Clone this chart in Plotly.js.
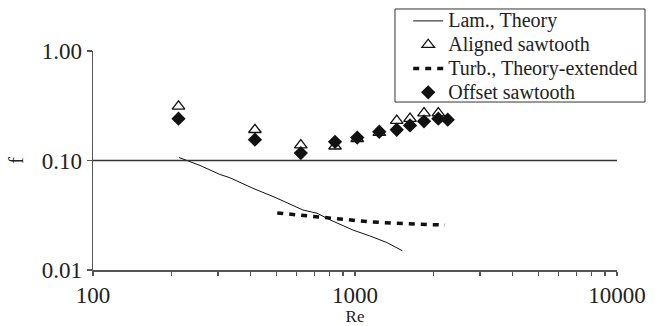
<!DOCTYPE html>
<html>
<head>
<meta charset="utf-8">
<script src="https://cdn.plot.ly/plotly-3.0.1.min.js"></script>
<style>
  html, body { margin: 0; padding: 0; background: #fff; }
  #chart { width: 663px; height: 326px; }
</style>
</head>
<body>
<div id="chart"></div>
<script>
// Laminar theory line
const reLam = [213, 256, 305, 333, 408, 495, 633, 716, 803, 985, 1138, 1324, 1516];
const fLam  = [0.1065, 0.0901, 0.0746, 0.0696, 0.0557, 0.0461, 0.0353, 0.0330, 0.0287, 0.0231, 0.0205, 0.0178, 0.0150];

// Aligned sawtooth (open triangles)
const reAligned = [212, 415, 621, 839, 1020, 1238, 1443, 1622, 1834, 2080];
const fAligned  = [0.312, 0.191, 0.138, 0.135, 0.158, 0.180, 0.231, 0.241, 0.271, 0.271];

// Turbulent theory extended (dashed)
const reTurb = [505, 617, 722, 839, 957, 1141, 1396, 1622, 1883, 2206];
const fTurb  = [0.0332, 0.0316, 0.0308, 0.0295, 0.0287, 0.0275, 0.0268, 0.0264, 0.0260, 0.0257];

// Offset sawtooth (filled diamonds)
const reOffset = [212, 415, 621, 839, 1020, 1238, 1443, 1622, 1834, 2080, 2259];
const fOffset  = [0.241, 0.155, 0.117, 0.148, 0.162, 0.183, 0.191, 0.209, 0.228, 0.241, 0.236];

// Reference level line
const fRef = 0.1;

// Series names
const names = ['Lam., Theory', 'Aligned sawtooth', 'Turb., Theory-extended', 'Offset sawtooth'];

// Axis ticks
const xTickVals = [100,200,300,400,500,600,700,800,900,1000,2000,3000,4000,5000,6000,7000,8000,9000,10000];
const xTickText = ['100','','','','','','','','','1000','','','','','','','','','10000'];
const yTickVals = [0.01, 0.1, 1];
const yTickText = ['0.01', '0.10', '1.00'];

const FONT = 'Liberation Serif, Times New Roman, serif';
const big = s => '<span style="font-size:20px">' + s + '</span>';

const traces = [
  { x: reLam, y: fLam, name: big(names[0]), mode: 'lines', type: 'scatter',
    line: { color: '#111', width: 1 } },
  { x: reAligned, y: fAligned, name: big(names[1]), mode: 'markers', type: 'scatter',
    marker: { symbol: 'triangle-up-open', size: 11, color: '#111', line: { width: 1.3, color: '#111' } } },
  { x: reTurb, y: fTurb, name: big(names[2]), mode: 'lines', type: 'scatter',
    line: { color: '#111', width: 3.5, dash: '6px,6px' } },
  { x: reOffset, y: fOffset, name: big(names[3]), mode: 'markers', type: 'scatter',
    marker: { symbol: 'diamond', size: 11, color: '#111' } }
];

const layout = {
  width: 663, height: 326,
  margin: { l: 93, r: 46, t: 51, b: 56, autoexpand: false },
  paper_bgcolor: '#fff', plot_bgcolor: '#fff',
  font: { family: FONT, color: '#222' },
  showlegend: true,
  legend: {
    x: 1.05, xanchor: 'right', y: 1.2146, yanchor: 'top',
    bgcolor: 'rgba(0,0,0,0)', borderwidth: 0,
    font: { family: FONT, size: 16, color: '#222' },
    tracegroupgap: 0, itemwidth: 30
  },
  xaxis: {
    type: 'log', range: [2, 4],
    tickvals: xTickVals, ticktext: xTickText,
    ticks: 'outside', ticklen: 4, tickcolor: '#555', tickwidth: 1.2,
    showline: true, linecolor: '#555', linewidth: 1.5,
    showgrid: false, zeroline: false,
    tickfont: { family: FONT, size: 23, color: '#222' },
    title: { text: 'Re', font: { family: FONT, size: 17, color: '#222' }, standoff: 0 }
  },
  yaxis: {
    type: 'log', range: [-2, 0],
    tickvals: yTickVals, ticktext: yTickText,
    ticks: 'outside', ticklen: 5, tickcolor: '#555', tickwidth: 1.2,
    showline: true, linecolor: '#555', linewidth: 1.5,
    showgrid: false, zeroline: false,
    tickfont: { family: FONT, size: 23, color: '#222' },
    title: { text: 'f', font: { family: FONT, size: 20, color: '#222' }, standoff: 12 }
  },
  shapes: [
    { type: 'line', xref: 'paper', x0: 0, x1: 1, yref: 'y', y0: fRef, y1: fRef,
      line: { color: '#333', width: 1.5 } },
    { type: 'rect', xref: 'paper', yref: 'paper', x0: 0.5763, x1: 1.0534, y0: 0.767, y1: 1.1918,
      fillcolor: '#fff', line: { color: '#333', width: 1 }, layer: 'below' }
  ]
};

Plotly.newPlot('chart', traces, layout, { staticPlot: true, displayModeBar: false });
</script>
</body>
</html>
